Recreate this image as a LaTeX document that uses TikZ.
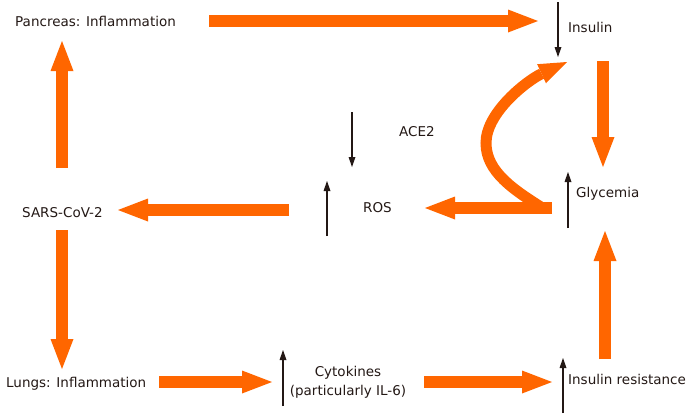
\documentclass[tikz,border=0pt]{standalone}
\usepackage{fontspec}
\setmainfont{DejaVu Sans}
\usetikzlibrary{arrows.meta}
\definecolor{flow}{RGB}{255,102,0}
\definecolor{ink}{RGB}{35,24,21}
\tikzstyle{txt}=[inner sep=0pt,text=ink,font=\fontsize{13.5pt}{19pt}\selectfont]
\tikzstyle{fat}=[draw=flow,line width=12pt,-{Triangle[length=30pt,width=23pt,line width=0pt]}]
\tikzstyle{thin}=[draw=ink,line width=1.4pt,-{Triangle[length=10pt,width=7pt,line width=0pt]}]

\begin{document}
\begin{tikzpicture}[x=1pt,y=-1pt]
		\useasboundingbox (0,0) rectangle (691,413);
		\node[txt,anchor=base west] (panc) at (15,26) {Pancreas: Inflammation};
		\node[txt,anchor=base west] (ins) at (568,32) {Insulin};
		\node[txt,anchor=base west] (ace) at (399,136) {ACE2};
		\node[txt,anchor=base west] (ros) at (363,212) {ROS};
		\node[txt,anchor=base west] (gly) at (576,197) {Glycemia};
		\node[txt,anchor=base west] (sars) at (22,217) {SARS-CoV-2};
		\node[txt,anchor=base west] (lung) at (6,387) {Lungs: Inflammation};
		\node[txt,align=center] (cyto) at (348,382) {Cytokines\\(particularly IL-6)};
		\node[txt,anchor=base west] (res) at (568,384) {Insulin resistance};
%
		\coordinate (pancR) at (209,21);
		\coordinate (insL) at (538,21);
		\coordinate (insB) at (603,61);
		\coordinate (glyT) at (603,167);
		\coordinate (glyB) at (605,231);
		\coordinate (resT) at (605,359);
		\coordinate (resL) at (552,382);
		\coordinate (cytoR) at (424,382);
		\coordinate (cytoL) at (272,382);
		\coordinate (lungR) at (159,382);
		\coordinate (lungT) at (62,369);
		\coordinate (sarsB) at (62,230);
		\coordinate (sarsT) at (62,168);
		\coordinate (pancB) at (62,41);
		\coordinate (sarsR) at (118,210);
		\coordinate (rosL) at (289,210);
		\coordinate (rosR) at (425,208);
		\coordinate (glyL) at (552,208);
		\coordinate (bend) at (486,143);
		\coordinate (insC) at (567,62);
%
		\draw[fat] (pancR) -- (insL);
		\draw[fat] (insB) -- (glyT);
		\draw[fat] (resT) -- (glyB);
		\draw[fat] (cytoR) -- (resL);
		\draw[fat] (lungR) -- (cytoL);
		\draw[fat] (sarsB) -- (lungT);
		\draw[fat] (sarsT) -- (pancB);
		\draw[fat] (rosL) -- (sarsR);
		\draw[fat] (glyL) -- (rosR);
		\draw[fat,line width=11pt,-{Triangle[length=28pt,width=21pt,line width=0pt]}] 
		([xshift=-8pt,yshift=-1pt]glyL) .. controls (514,190) and (486,172) .. (bend) 
		.. controls (486,112) and (528,80) .. (insC);
%
		\draw[thin] (558,2) -- (558,57);
		\draw[thin] (352,112) -- (352,167);
		\draw[thin] (327,236) -- (327,181);
		\draw[thin] (568,228) -- (568,172);
		\draw[thin] (283,406) -- (283,350);
		\draw[thin] (563,413) -- (563,358);
\end{tikzpicture}
\end{document}
